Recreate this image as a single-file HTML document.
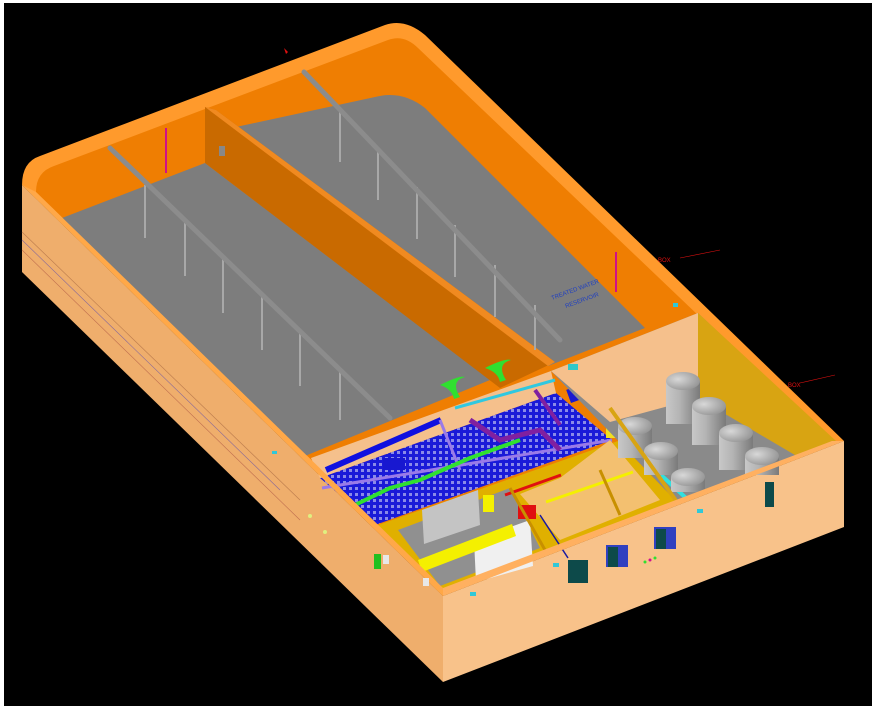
<!DOCTYPE html>
<html><head><meta charset="utf-8"><style>
html,body{margin:0;padding:0;background:#fff;}
svg{display:block;}
text{font-family:"Liberation Sans",sans-serif;}
</style></head><body>
<svg width="876" height="711" viewBox="0 0 876 711" xmlns="http://www.w3.org/2000/svg">
<defs>
<pattern id="grid" width="6" height="6" patternUnits="userSpaceOnUse">
<rect width="6" height="6" fill="#1a1ad8"/>
<rect x="1" y="1" width="3" height="3" fill="#8a8ae8"/>
</pattern>
<radialGradient id="cyl" cx="0.35" cy="0.4" r="0.8">
<stop offset="0" stop-color="#d8d8d8"/><stop offset="1" stop-color="#8a8a8a"/>
</radialGradient>
<linearGradient id="cylb" x1="0" x2="1">
<stop offset="0" stop-color="#c8c8c8"/><stop offset="0.4" stop-color="#b4b4b4"/><stop offset="1" stop-color="#7a7a7a"/>
</linearGradient>
</defs>
<rect x="0" y="0" width="876" height="711" fill="#fff"/>
<rect x="4" y="3" width="868" height="703" fill="#000"/>

<!-- outer faces -->
<path d="M22,185 L443,596 L443,682 L22,272 Z" fill="#efae6c"/>
<path d="M443,596 L844,441 L844,527 L443,682 Z" fill="#f8c28a"/>
<line x1="22" y1="232" x2="300" y2="500" stroke="#c08050" stroke-width="0.7"/>
<line x1="22" y1="240" x2="280" y2="490" stroke="#8a6a9a" stroke-width="0.6"/>
<line x1="22" y1="250" x2="300" y2="520" stroke="#c07050" stroke-width="0.6"/>
<!-- rim -->
<path d="M22,185 Q22,162 40,156 L385,25 Q405,18 425,35 L844,441 L443,596 Z" fill="#ff9a2c"/>
<path d="M36,192 Q36,172 54,166 L388,40 Q404,34 418,48 L832,443 L443,588 Z" fill="#ef7e02"/>

<!-- left tank floor -->
<path d="M62,218 L205,163 L490,380 L305,456 Z" fill="#7d7d7d"/>
<!-- right tank floor -->
<path d="M222,130 L375,97 Q402,90 425,108 L645,328 L548,366 Z" fill="#7d7d7d"/>
<!-- middle wall -->
<path d="M205,107 L216,110 L555,362 L500,388 L205,163 Z" fill="#c96a00"/>
<path d="M205,107 L216,110 L555,362 L548,366 Z" fill="#f08a20"/>
<rect x="219" y="146" width="6" height="10" fill="#888"/>

<!-- beams & posts -->
<g stroke="#a8a8a8" stroke-width="2">
<line x1="145" y1="185" x2="145" y2="238"/><line x1="185" y1="222" x2="185" y2="276"/>
<line x1="223" y1="258" x2="223" y2="313"/><line x1="262" y1="295" x2="262" y2="350"/>
<line x1="300" y1="331" x2="300" y2="386"/><line x1="340" y1="369" x2="340" y2="420"/>
<line x1="340" y1="110" x2="340" y2="162"/><line x1="378" y1="148" x2="378" y2="200"/>
<line x1="417" y1="187" x2="417" y2="239"/><line x1="455" y1="225" x2="455" y2="277"/>
<line x1="495" y1="265" x2="495" y2="317"/><line x1="535" y1="305" x2="535" y2="350"/>
</g>
<line x1="110" y1="148" x2="390" y2="418" stroke="#8c8c8c" stroke-width="5" stroke-linecap="round"/>
<line x1="304" y1="72" x2="560" y2="340" stroke="#8c8c8c" stroke-width="5" stroke-linecap="round"/>
<line x1="166" y1="128" x2="166" y2="173" stroke="#d0108a" stroke-width="2"/>
<line x1="616" y1="252" x2="616" y2="292" stroke="#d0108a" stroke-width="2"/>
<text x="552" y="300" font-size="6" fill="#2040c0" transform="rotate(-20 552 300)">TREATED WATER</text>
<text x="566" y="308" font-size="6" fill="#2040c0" transform="rotate(-20 566 308)">RESERVOIR</text>
<text x="658" y="262" font-size="6" fill="#e01010">BOX</text>
<text x="788" y="387" font-size="6" fill="#e01010">BOX</text>
<line x1="680" y1="258" x2="720" y2="250" stroke="#e01010" stroke-width="0.6"/>
<line x1="800" y1="383" x2="835" y2="375" stroke="#e01010" stroke-width="0.6"/>
<path d="M284,48 l4,4 l-2,2 z" fill="#e01010"/>

<!-- pump room -->
<path d="M311,458 L551,371 L556,393 L320,478 Z" fill="#f5c08c"/>
<path d="M320,478 L556,393 L612,440 L375,525 Z" fill="url(#grid)"/>
<line x1="326" y1="470" x2="441" y2="420" stroke="#1010e0" stroke-width="6"/>
<line x1="322" y1="488" x2="612" y2="440" stroke="#9a7ae8" stroke-width="3"/>
<line x1="440" y1="420" x2="460" y2="470" stroke="#9a7ae8" stroke-width="3"/>
<polyline points="355,505 390,488 420,480 470,458 520,440" fill="none" stroke="#30e030" stroke-width="4"/>
<polyline points="470,420 500,440 540,430 560,450" fill="none" stroke="#8020a0" stroke-width="5"/>
<line x1="535" y1="390" x2="560" y2="425" stroke="#8020a0" stroke-width="4"/>
<line x1="455" y1="408" x2="555" y2="380" stroke="#30c8e0" stroke-width="3"/>
<rect x="383" y="458" width="22" height="12" fill="#1818d0"/>
<rect x="568" y="386" width="20" height="14" fill="#1818d0" transform="rotate(-20 578 393)"/>
<path d="M440,385 q20,-10 25,-8 q-15,4 -5,20 l-6,2 q-2,-10 -14,-14z" fill="#30e030"/>
<path d="M485,368 q20,-10 26,-8 q-15,4 -5,20 l-6,2 q-2,-10 -15,-14z" fill="#30e030"/>
<rect x="606" y="426" width="10" height="12" fill="#f0e020"/>

<!-- electrical rooms -->
<path d="M378,525 L618,441 L677,502 L443,593 Z" fill="#e0b000"/>
<path d="M398,530 L510,488 L540,548 L440,586 Z" fill="#909090"/>
<path d="M422,510 L478,490 L480,525 L424,544 Z" fill="#c4c4c4"/>
<path d="M474,540 L530,520 L533,566 L476,582 Z" fill="#f0f0f0"/>
<path d="M418,560 L512,524 L516,536 L422,572 Z" fill="#f4f000"/>
<rect x="483" y="495" width="11" height="17" fill="#f4f000"/>
<path d="M520,494 L560,478 L610,440 L660,500 L560,540 Z" fill="#f3c070"/>
<rect x="518" y="505" width="18" height="14" fill="#e01010"/>
<line x1="505" y1="495" x2="561" y2="475" stroke="#e01010" stroke-width="3"/>
<line x1="546" y1="502" x2="633" y2="472" stroke="#f4f000" stroke-width="3"/>
<line x1="540" y1="515" x2="568" y2="558" stroke="#1818a0" stroke-width="1.5"/>
<line x1="510" y1="488" x2="545" y2="550" stroke="#c89000" stroke-width="3"/>
<line x1="600" y1="470" x2="620" y2="515" stroke="#c89000" stroke-width="3"/>

<!-- cylinder room -->
<path d="M551,371 L698,313 L836,443 L677,502 Z" fill="#8a8a8a"/>
<path d="M551,371 L698,313 L698,398 L610,422 Z" fill="#f5c08c"/>
<path d="M698,313 L836,441 L800,458 L698,398 Z" fill="#d8a412"/>
<rect x="568" y="364" width="10" height="6" fill="#30c8c8"/>
<line x1="661" y1="475" x2="686" y2="498" stroke="#30e0e0" stroke-width="4"/>
<g>
<rect x="666" y="381" width="34" height="43" fill="url(#cylb)"/><ellipse cx="683" cy="381" rx="17" ry="9" fill="url(#cyl)"/>
<rect x="618" y="426" width="34" height="32" fill="url(#cylb)"/><ellipse cx="635" cy="426" rx="17" ry="9" fill="url(#cyl)"/>
<rect x="692" y="406" width="34" height="39" fill="url(#cylb)"/><ellipse cx="709" cy="406" rx="17" ry="9" fill="url(#cyl)"/>
<rect x="644" y="451" width="34" height="24" fill="url(#cylb)"/><ellipse cx="661" cy="451" rx="17" ry="9" fill="url(#cyl)"/>
<rect x="719" y="433" width="34" height="37" fill="url(#cylb)"/><ellipse cx="736" cy="433" rx="17" ry="9" fill="url(#cyl)"/>
<rect x="671" y="477" width="34" height="15" fill="url(#cylb)"/><ellipse cx="688" cy="477" rx="17" ry="9" fill="url(#cyl)"/>
<rect x="745" y="456" width="34" height="19" fill="url(#cylb)"/><ellipse cx="762" cy="456" rx="17" ry="9" fill="url(#cyl)"/>
</g>
<line x1="610" y1="408" x2="677" y2="502" stroke="#d8a412" stroke-width="4"/>

<!-- front rim -->
<path d="M443,588 L832,441 L844,441 L443,596 Z" fill="#ffb060"/>
<path d="M36,192 L443,588 L443,596 L22,185 Z" fill="#ffa848"/>

<!-- front wall details -->
<rect x="568" y="560" width="20" height="23" fill="#0d4a4a"/>
<rect x="606" y="545" width="22" height="22" fill="#3040c0"/><rect x="608" y="547" width="10" height="20" fill="#0d4a4a"/>
<rect x="654" y="527" width="22" height="22" fill="#3040c0"/><rect x="656" y="529" width="10" height="20" fill="#0d4a4a"/>
<rect x="765" y="482" width="9" height="25" fill="#0d4a4a"/>
<rect x="374" y="554" width="7" height="15" fill="#20c020"/>
<rect x="470" y="592" width="6" height="4" fill="#30c8d8"/>
<rect x="553" y="563" width="6" height="4" fill="#30c8d8"/>
<rect x="697" y="509" width="6" height="4" fill="#30c8d8"/>
<rect x="423" y="578" width="6" height="8" fill="#e8e8e8"/>
<rect x="383" y="555" width="6" height="9" fill="#e8e8e8"/>
<circle cx="310" cy="516" r="2" fill="#e0f080"/><circle cx="325" cy="532" r="2" fill="#e0f080"/>
<circle cx="645" cy="562" r="1.5" fill="#30e030"/><circle cx="650" cy="560" r="1.5" fill="#d01090"/><circle cx="655" cy="558" r="1.5" fill="#30e030"/>
<rect x="272" y="451" width="5" height="3" fill="#30c8d8"/>
<rect x="673" y="303" width="5" height="4" fill="#30c8d8"/>
</svg>
</body></html>
